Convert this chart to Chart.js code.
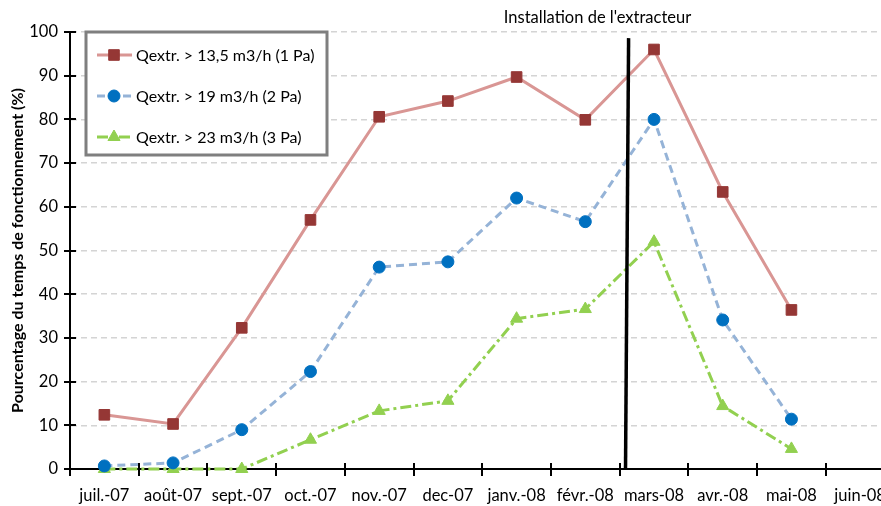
<!DOCTYPE html>
<html>
<head>
<meta charset="utf-8">
<script src="https://cdn.jsdelivr.net/npm/chart.js@4"></script>
<style>
  html, body { margin: 0; padding: 0; background: #fff; overflow: hidden; }
  #wrap { width: 910px; height: 506px; }
</style>
</head>
<body>
<div id="wrap"><canvas id="chart" width="910" height="506"></canvas></div>
<script>
const mois = ['juil.-07', 'août-07', 'sept.-07', 'oct.-07', 'nov.-07', 'dec-07',
  'janv.-08', 'févr.-08', 'mars-08', 'avr.-08', 'mai-08', 'juin-08'];
const q1Pa = [12.4, 10.3, 32.3, 57, 80.6, 84.2, 89.7, 79.9, 96, 63.4, 36.4, null];
const q2Pa = [0.7, 1.4, 9, 22.3, 46.2, 47.4, 62, 56.6, 80, 34.1, 11.4, null];
const q3Pa = [0, 0, 0, 6.7, 13.3, 15.6, 34.4, 36.6, 52, 14.4, 4.6, null];
const nomsSeries = ['Qextr. > 13,5 m3/h (1 Pa)', 'Qextr. > 19 m3/h (2 Pa)', 'Qextr. > 23 m3/h (3 Pa)'];
const yTicks = [0, 10, 20, 30, 40, 50, 60, 70, 80, 90, 100];
const extracteur = 7.6;   // position (index) de l'installation, entre févr. et mars
const labelExtracteur = "Installation de l'extracteur";

const FONT = 'Lato, "Open Sans", sans-serif';

// ticks qui traversent les axes + trait vertical + légende encadrée
const decor = {
  id: 'decor',
  afterDatasetsDraw(chart) {
    const ctx = chart.ctx;
    const xs = chart.scales.x, ys = chart.scales.y;
    const area = chart.chartArea;
    ctx.save();
    // tick marks
    ctx.strokeStyle = '#000';
    ctx.lineWidth = 2;
    ctx.beginPath();
    yTicks.forEach(v => {
      const y = Math.round(ys.getPixelForValue(v));
      ctx.moveTo(area.left - 6, y);
      ctx.lineTo(area.left + 6, y);
    });
    for (let i = 0; i <= mois.length; i++) {
      const x = Math.round(xs.getPixelForValue(i - 0.5));
      ctx.moveTo(x, area.bottom - 6);
      ctx.lineTo(x, area.bottom + 7);
    }
    ctx.stroke();

    // trait de l'installation
    ctx.lineWidth = 3.5;
    ctx.beginPath();
    ctx.moveTo(xs.getPixelForValue(extracteur + 0.03), ys.getPixelForValue(98.6));
    ctx.lineTo(xs.getPixelForValue(extracteur - 0.015), ys.getPixelForValue(0));
    ctx.stroke();
    ctx.fillStyle = '#000';
    ctx.font = '16.5px ' + FONT;
    ctx.textAlign = 'center';
    ctx.textBaseline = 'middle';
    ctx.fillText(labelExtracteur, xs.getPixelForValue(extracteur) - 29, 18);

    // légende
    const bx = area.left + 16, by = area.top, bw = 241, bh = 123;
    ctx.fillStyle = '#fff';
    ctx.fillRect(bx, by, bw, bh);
    ctx.strokeStyle = '#7f7f7f';
    ctx.lineWidth = 3;
    ctx.strokeRect(bx, by, bw, bh);
    chart.data.datasets.forEach((ds, i) => {
      const y = by + 23 + i * 41;
      ctx.strokeStyle = ds.borderColor;
      ctx.lineWidth = ds.borderWidth;
      ctx.setLineDash(ds.borderDash || []);
      ctx.beginPath();
      ctx.moveTo(bx + 11, y);
      ctx.lineTo(bx + 46, y);
      ctx.stroke();
      ctx.setLineDash([]);
      ctx.fillStyle = ds.pointBackgroundColor;
      ctx.strokeStyle = ds.pointBorderColor;
      ctx.lineWidth = 1;
      Chart.helpers.drawPoint(ctx, { pointStyle: ds.pointStyle, radius: ds.pointRadius, borderWidth: 1 }, bx + 28, y);
      ctx.fillStyle = '#000';
      ctx.font = '16px ' + FONT;
      ctx.textAlign = 'left';
      ctx.fillText(ds.label, bx + 50, y + 1);
    });
    ctx.restore();
  }
};

new Chart(document.getElementById('chart'), {
  type: 'line',
  data: {
    labels: mois,
    datasets: [
      {
        label: nomsSeries[0],
        data: q1Pa,
        borderColor: '#d99694',
        borderWidth: 3,
        pointStyle: 'rect',
        pointRadius: 7.5,
        pointBackgroundColor: '#953735',
        pointBorderColor: '#953735',
        pointBorderWidth: 1,
        tension: 0
      },
      {
        label: nomsSeries[1],
        data: q2Pa,
        borderColor: '#95b3d7',
        borderWidth: 3,
        borderDash: [8, 5],
        pointStyle: 'circle',
        pointRadius: 6,
        pointBackgroundColor: '#0070c0',
        pointBorderColor: '#0070c0',
        pointBorderWidth: 1,
        tension: 0
      },
      {
        label: nomsSeries[2],
        data: q3Pa,
        borderColor: '#92d050',
        borderWidth: 3,
        borderDash: [11, 4, 3, 4],
        pointStyle: 'triangle',
        pointRadius: 7,
        pointBackgroundColor: '#92d050',
        pointBorderColor: '#92d050',
        pointBorderWidth: 1,
        tension: 0
      }
    ]
  },
  options: {
    responsive: false,
    animation: false,
    clip: false,
    layout: { padding: { top: 32, right: 15.5, bottom: 0, left: 0 } },
    plugins: {
      legend: { display: false },
      tooltip: { enabled: false }
    },
    scales: {
      x: {
        offset: true,
        grid: { drawOnChartArea: false, tickLength: 7, tickColor: 'rgba(0,0,0,0)', offset: true },
        border: { color: '#000', width: 2 },
        ticks: { color: '#000', font: { family: FONT, size: 16.5 }, padding: 10, maxRotation: 0, autoSkip: false },
        afterFit(scale) { scale.height = 37; }
      },
      y: {
        min: 0,
        max: 100,
        grid: { color: '#d4d4d4', lineWidth: 1.5, tickLength: 7, tickColor: 'rgba(0,0,0,0)' },
        border: { color: '#000', width: 2, dash: [6, 4] },
        ticks: { stepSize: 10, color: '#000', font: { family: FONT, size: 16.5 }, padding: 5 },
        title: {
          display: true,
          text: 'Pourcentage du temps de fonctionnement (%)',
          color: '#000',
          font: { family: FONT, size: 16, weight: 'bold' },
          padding: { top: 8, bottom: 0 }
        },
        afterFit(scale) { scale.width = 70; }
      }
    }
  },
  plugins: [decor]
});
</script>
</body>
</html>
